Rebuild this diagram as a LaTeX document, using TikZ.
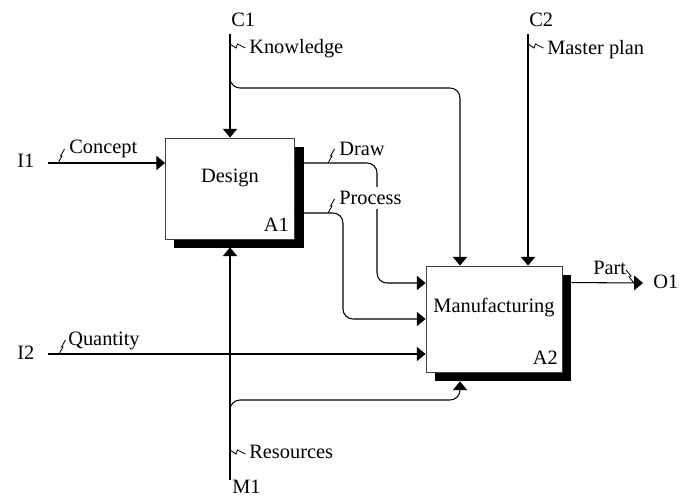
\documentclass[tikz,border=0pt]{standalone}
\usepackage{fontspec}
\setmainfont{Liberation Serif}
\usetikzlibrary{arrows.meta,shadows,calc}

\tikzset{
  funcbox/.style={draw=black!75, line width=0.6pt, fill=white, inner sep=0pt,
    drop shadow={shadow xshift=0.225cm, shadow yshift=-0.225cm, fill=black, opacity=1}},
  flow/.style={line width=0.75pt, rounded corners=0.25cm, -{Triangle[length=0.22cm,width=0.36cm]}},
  tag/.style={inner sep=0pt, anchor=base west},
  squig/.style={line width=0.6pt},
}
% little lightning marks tying a label to its arrow
\newcommand{\zigh}[1]{\draw[squig] (#1) -- ++(4,-7) -- ++(-1.5,0) -- ++(4,-7);}
\newcommand{\zigv}[1]{\draw[squig] (#1) -- ++(6,4) -- ++(1.5,-4) -- ++(8,4);}

\begin{document}
\begin{tikzpicture}[x=0.025cm, y=-0.025cm, font=\fontsize{14.5}{17}\selectfont]
  \useasboundingbox (0,0) rectangle (686,498);

  % Boxes
  \node[funcbox, minimum width=3.225cm, minimum height=2.525cm] (design) at (230,188.5) {};
  \node[funcbox, minimum width=3.4cm, minimum height=2.65cm] (mfg) at (494,319) {};

  % Open ends and bends
  \coordinate (c1) at (230,34);
  \coordinate (c2) at (528,34);
  \coordinate (i1) at (48,163);
  \coordinate (i2) at (48,354);
  \coordinate (m1) at (230,480);
  \coordinate (o1) at (643,283);
  \coordinate (kb) at (230,68);
  \coordinate (kt) at (460,88);
  \coordinate (drawbend) at (377,283);
  \coordinate (procbend) at (343,319);
  \coordinate (rb) at (230,420);
  \coordinate (rt) at (460,400);

  % Controls
  \draw[flow] (c1) -- (design.north);
  \draw[flow] (kb) |- (kt) -- (kt |- mfg.north);
  \draw[flow] (c2) -- (c2 |- mfg.north);

  % Inputs
  \draw[flow] (i1) -- (i1 -| design.west);
  \draw[flow] (i2) -- (i2 -| mfg.west);
  \draw[flow] (design.east |- i1) -| (drawbend) -- (drawbend -| mfg.west);
  \draw[flow] ($(design.east)+(0,24.5)$) -| (procbend) -- (procbend -| mfg.west);

  % Mechanism
  \draw[flow] (m1) -- ($(design.south)+(0,8)$);
  \draw[flow] (rb) |- (rt) -- ($(rt |- mfg.south)+(0,9)$);

  % Output
  \draw[flow] ($(mfg.north east)+(9,17)$) -- (o1);

  % Box texts
  \node[tag, anchor=base] (designtxt) at (230,183) {Design};
  \node[tag, anchor=base east] (a1) at (289,232) {A1};
  \node[tag, anchor=base] (mfgtxt) at (494,313) {Manufacturing};
  \node[tag, anchor=base east] (a2) at (558,365) {A2};

  % Arrow names
  \node[tag] (c1lbl) at (231,27) {C1};
  \node[tag] (c2lbl) at (529,27) {C2};
  \node[tag] (m1lbl) at (232,494) {M1};
  \node[tag] (i1lbl) at (17,168) {I1};
  \node[tag] (i2lbl) at (17,360) {I2};
  \node[tag] (o1lbl) at (653,289) {O1};

  % Arrow labels
  \node[tag] (know) at (249,54) {Knowledge};
  \node[tag] (plan) at (547,55) {Master plan};
  \node[tag] (concept) at (69,154) {Concept};
  \node[tag] (qty) at (68,346) {Quantity};
  \node[tag] (drawlbl) at (339,156) {Draw};
  \node[tag, fill=white, inner ysep=3pt] (proc) at (339,205) {Process};
  \node[tag] (res) at (249,459) {Resources};
  \node[tag] (part) at (593,275) {Part};

  % Squiggles
  \zigv{230,44}
  \zigv{528,44}
  \zigv{230,450}
  \zigh{58,163}
  \zigh{59,354}
  \zigh{328,163}
  \zigh{328,213}
  \draw[squig] (626,270) -- ++(5,6) -- ++(-2,1) -- ++(5,6);
\end{tikzpicture}
\end{document}
